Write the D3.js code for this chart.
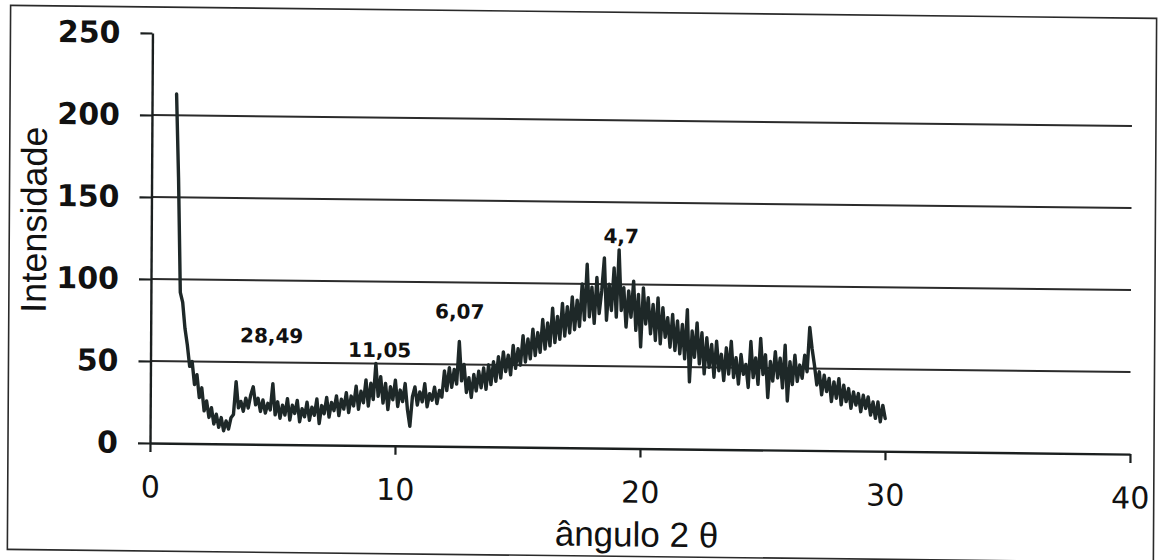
<!DOCTYPE html>
<html>
<head>
<meta charset="utf-8">
<script src="https://cdn.jsdelivr.net/npm/d3@7"></script>
<style>
  html, body { margin: 0; padding: 0; background: #fff; }
  svg { display: block; }
</style>
</head>
<body>
<svg id="chart" width="1159" height="560"></svg>
<script>
// X-ray diffraction pattern: intensity sampled every 0.1° of 2θ from 1.0° to 30.0°
const angleStart = 1.0;
const angleStep = 0.1;
const intensity = [
  213,162, 92, 86, 70, 60, 47, 50, 36, 42,   // 1°
   28, 34, 20, 26, 16, 22, 12, 18, 10, 16,   // 2°
    8, 14,  9, 16, 18, 38, 22, 26, 20, 28,   // 3°
   22, 30, 35, 24, 28, 20, 27, 19, 25, 21,   // 4°
   37, 18, 26, 16, 24, 18, 28, 15, 24, 19,   // 5°
   27, 14, 22, 17, 26, 15, 23, 18, 28, 13,   // 6°
   24, 19, 29, 17, 26, 21, 30, 18, 28, 22,   // 7°
   32, 20, 30, 24, 36, 22, 33, 26, 40, 24,   // 8°
   38, 28, 50, 30, 42, 26, 38, 22, 36, 28,   // 9°
   40, 24, 34, 27, 38, 22, 12, 30, 36, 25,   // 10°
   33, 27, 38, 24, 32, 28, 36, 26, 34, 30,   // 11°
   46, 34, 48, 36, 47, 38, 64, 40, 50, 33,   // 12°
   42, 30, 44, 34, 46, 36, 48, 35, 50, 38,   // 13°
   52, 40, 55, 42, 58, 46, 56, 44, 62, 48,   // 14°
   60, 50, 68, 52, 66, 54, 72, 56, 70, 58,   // 15°
   78, 60, 76, 62, 85, 64, 80, 66, 88, 68,   // 16°
   86, 70, 92, 72, 90, 74,100, 78,112, 80,   // 17°
   98, 76,104, 82, 96,116, 78,100, 84,110,   // 18°
   80,121, 84, 98, 74, 96, 80,102, 72, 94,   // 19°
   62, 98, 76, 92, 70, 88, 66, 92, 64, 86,   // 20°
   68, 80, 62, 82, 60, 78, 58, 76, 55, 85,   // 21°
   41, 72, 56, 77, 52, 71, 46, 68, 50, 64,   // 22°
   44, 66, 48, 58, 42, 62, 46, 66, 44, 56,   // 23°
   40, 58, 46, 52, 38, 66, 44, 56, 40, 68,   // 24°
   46, 58, 32, 54, 42, 60, 44, 56, 38, 64,   // 25°
   30, 54, 40, 58, 42, 52, 44, 58, 48, 75,   // 26°
   62, 52, 40, 48, 34, 46, 36, 44, 30, 42,   // 27°
   32, 44, 28, 40, 30, 38, 26, 36, 28, 35,   // 28°
   24, 34, 26, 33, 22, 30, 20, 30, 18, 28,   // 29°
   20                                        // 30°
];

// Axis ticks
const xTicks = [0, 10, 20, 30, 40];
const yTicks = [0, 50, 100, 150, 200, 250];
const gridLevels = [50, 100, 150, 200];

// d-spacing annotations (Å) and where they sit in data space
const peakLabels = ["28,49", "11,05", "6,07", "4,7"];
const peakLabelAngles = [4.94, 9.35, 12.61, 19.18];
const peakLabelLevels = [62, 54, 78, 125];

const xTitle = "ângulo 2 θ";
const yTitle = "Intensidade";

const svg = d3.select("#chart");
const ink = "#1b1f1f";

// whole sheet sits slightly askew, pivoting about the plot origin
const sheet = svg.append("g")
  .attr("transform", "translate(150,443) matrix(1,0.0113,-0.006,1,0,0) translate(-150,-443)");

// outer frame
sheet.append("rect")
  .attr("x", 8).attr("y", 7)
  .attr("width", 1146).attr("height", 544)
  .attr("fill", "none")
  .attr("stroke", "#2a2a2a")
  .attr("stroke-width", 1.6);

const x = d3.scaleLinear().domain([0, 40]).range([150, 1130]);
const y = d3.scaleLinear().domain([0, 250]).range([443, 33]);

// horizontal gridlines
sheet.append("g").selectAll("line")
  .data(gridLevels)
  .join("line")
  .attr("x1", x(0)).attr("x2", x(40))
  .attr("y1", d => y(d)).attr("y2", d => y(d))
  .attr("stroke", "#2b2b2b")
  .attr("stroke-width", 2);

// y axis
const yAxis = sheet.append("g")
  .attr("transform", `translate(${x(0)},0)`)
  .call(d3.axisLeft(y).tickValues(yTicks).tickSize(12).tickSizeOuter(0).tickPadding(20));
yAxis.select(".domain").attr("stroke", ink).attr("stroke-width", 2.4);
yAxis.selectAll(".tick line").attr("stroke", ink).attr("stroke-width", 2.2);
yAxis.selectAll(".tick text")
  .attr("fill", "#111")
  .style("font-family", "'DejaVu Sans', sans-serif")
  .style("font-weight", "bold")
  .style("font-size", "30px");

// x axis
const xAxis = sheet.append("g")
  .attr("transform", `translate(0,${y(0)})`)
  .call(d3.axisBottom(x).tickValues(xTicks).tickSize(9).tickSizeOuter(0).tickPadding(24));
xAxis.select(".domain").attr("stroke", ink).attr("stroke-width", 2.4);
xAxis.selectAll(".tick line").attr("stroke", ink).attr("stroke-width", 2.2);
xAxis.selectAll(".tick text")
  .attr("fill", "#111")
  .style("font-family", "'DejaVu Sans', sans-serif")
  .style("font-size", "30px");

// diffraction trace
const points = intensity.map((v, i) => [angleStart + i * angleStep, v]);
sheet.append("path")
  .datum(points)
  .attr("fill", "none")
  .attr("stroke", "#1e2828")
  .attr("stroke-width", 3.4)
  .attr("stroke-linejoin", "round")
  .attr("stroke-linecap", "round")
  .attr("d", d3.line().x(d => x(d[0])).y(d => y(d[1])));

// d-spacing labels
sheet.append("g").selectAll("text")
  .data(peakLabels)
  .join("text")
  .attr("x", (d, i) => x(peakLabelAngles[i]))
  .attr("y", (d, i) => y(peakLabelLevels[i]))
  .attr("text-anchor", "middle")
  .attr("fill", "#111")
  .style("font-family", "'DejaVu Sans', sans-serif")
  .style("font-weight", "bold")
  .style("font-size", "20px")
  .text(d => d);

// axis titles
sheet.append("text")
  .attr("x", 637).attr("y", 541)
  .attr("text-anchor", "middle")
  .attr("fill", "#111")
  .style("font-family", "'Liberation Sans', Arial, sans-serif")
  .style("font-size", "35px")
  .text(xTitle);

sheet.append("text")
  .attr("transform", "translate(45,221) rotate(-90)")
  .attr("text-anchor", "middle")
  .attr("fill", "#111")
  .style("font-family", "'Liberation Sans', Arial, sans-serif")
  .style("font-size", "36px")
  .text(yTitle);
</script>
</body>
</html>
